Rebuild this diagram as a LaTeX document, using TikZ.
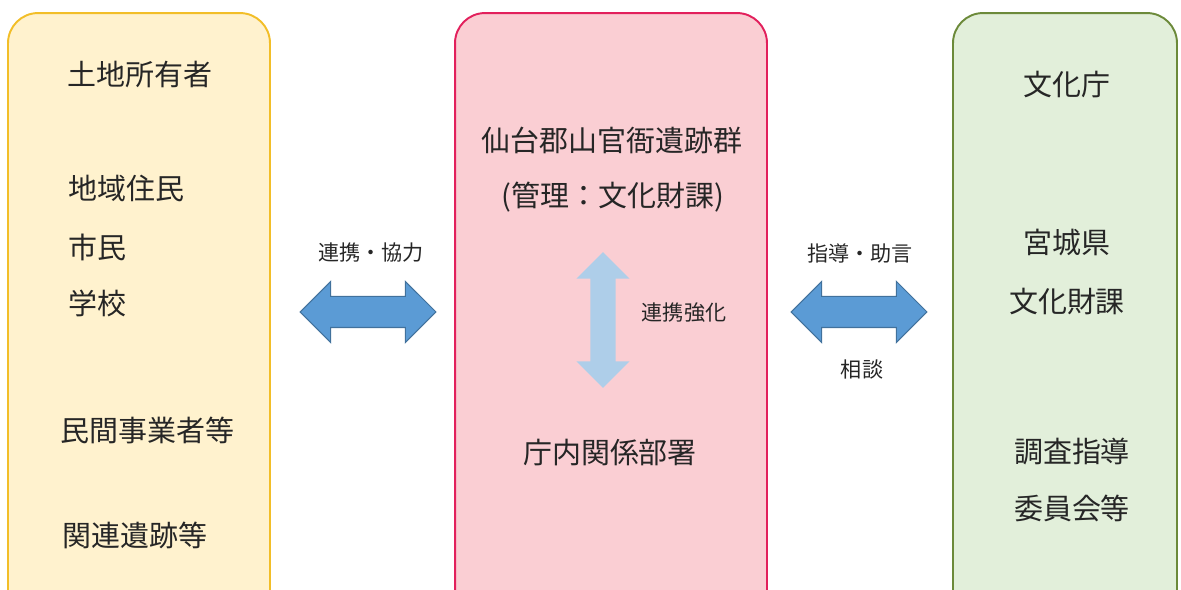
\documentclass[tikz,border=0pt]{standalone}
\usepackage{fontspec}
\newfontfamily\jp{Noto Sans CJK JP}
\usetikzlibrary{shapes.arrows}
\definecolor{locfill}{RGB}{255,242,206}
\definecolor{locdraw}{RGB}{242,190,40}
\definecolor{sitefill}{RGB}{250,206,211}
\definecolor{sitedraw}{RGB}{226,32,92}
\definecolor{advfill}{RGB}{226,239,218}
\definecolor{advdraw}{RGB}{108,138,58}
\definecolor{arrowfill}{RGB}{91,155,213}
\definecolor{arrowdraw}{RGB}{65,113,156}
\definecolor{arrowlight}{RGB}{166,206,236}
\definecolor{txt}{RGB}{38,38,38}
\begin{document}
\begin{tikzpicture}[
        x=0.02cm, y=-0.02cm,
        group/.style={
            draw,
            rounded corners=0.6cm,
            line width=1.1pt,
            minimum height=12.14cm,
            inner sep=0pt
        },
        member/.style={
            font=\jp\fontsize{16.5}{20}\selectfont,
            text=txt,
            inner sep=0pt
        },
        note/.style={
            font=\jp\fontsize{12}{14}\selectfont,
            text=txt,
            inner sep=0pt
        },
        link/.style={
            double arrow,
            double arrow head extend=0.3cm,
            minimum height=2.72cm,
            inner xsep=0pt,
            inner ysep=0.3cm,
            fill=arrowfill,
            draw=arrowdraw,
            line width=0.6pt
        }
    ]
        \useasboundingbox (0,0) rectangle (1181,590);
        \clip (0,0) rectangle (1181,590);

        % --- 1. Parties concernées ---
        \node[group, fill=locfill, draw=locdraw, minimum width=5.24cm] (locals) at (139,316.5) {};
        \node[member] (owner) at (140,75) {土地所有者};
        \node[member, anchor=west] (resident) at (68,188) {地域住民};
        \node[member, anchor=west] (citizen) at (68,247) {市民};
        \node[member, anchor=west] (school) at (68,303) {学校};
        \node[member, anchor=west] (business) at (60,430) {民間事業者等};
        \node[member, anchor=west] (relics) at (62,535) {関連遺跡等};

        % --- 2. Site et administration ---
        \node[group, fill=sitefill, draw=sitedraw, minimum width=6.24cm] (site) at (611,316.5) {};
        \node[member] (ruins) at (612,140) {仙台郡山官衙遺跡群};
        \node[member] (manager) at (613,197) {(管理：文化財課)};
        \node[member] (office) at (610,453) {庁内関係部署};
        \node[link, rotate=90, fill=arrowlight, draw=none, opacity=0.9,
            inner ysep=0.24cm, double arrow head extend=0.28cm] (inner) at (603,320) {};
        \node[note] (inner note) at (684,313) {連携強化};

        % --- 3. Conseil ---
        \node[group, fill=advfill, draw=advdraw, minimum width=4.48cm] (advisors) at (1065,316.5) {};
        \node[member] (agency) at (1067,85) {文化庁};
        \node[member] (pref) at (1067,243) {宮城県};
        \node[member] (prefdept) at (1067,302) {文化財課};
        \node[member] (committee) at (1072,452) {調査指導};
        \node[member] (committee2) at (1072,508) {委員会等};

        % --- Flèches entre les groupes ---
        \node[link] (left link) at (368,312) {};
        \node[note] (left note) at (371,253) {連携・協力};

        \node[link] (right link) at (859,312) {};
        \node[note] (right note) at (860,253) {指導・助言};
        \node[note] (right note2) at (862,370) {相談};
    \end{tikzpicture}
\end{document}
